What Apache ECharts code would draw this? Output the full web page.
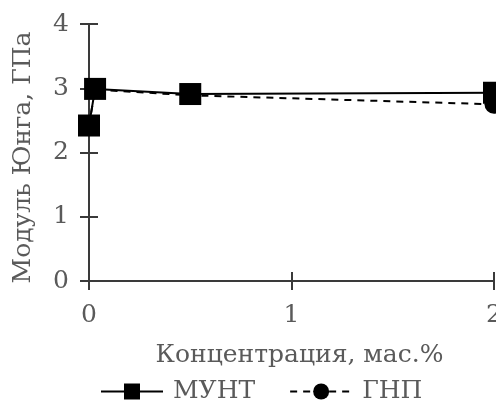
<!DOCTYPE html>
<html>
<head>
<meta charset="utf-8">
<script src="https://cdn.jsdelivr.net/npm/echarts@6/dist/echarts.min.js"></script>
<style>
  html, body { margin: 0; padding: 0; background: #fff; }
  #chart { width: 496px; height: 414px; }
</style>
</head>
<body>
<div id="chart"></div>
<script>
// Young's modulus vs filler concentration
const concMUNT = [0, 0.03, 0.5, 2];
const modulusMUNT = [2.42, 2.99, 2.91, 2.93];
const concGNP = [0, 0.03, 0.5, 2];
const modulusGNP = [2.42, 2.98, 2.89, 2.75];
const yTicks = [0, 1, 2, 3, 4];
const xTicks = [0, 1, 2];

const font = '"DejaVu Serif", "Liberation Serif", serif';
const axisColor = '#3a3a3a';
const labelColor = '#5a5a5a';

const pairs = (xs, ys) => xs.map((x, i) => [x, ys[i]]);

const chart = echarts.init(document.getElementById('chart'));

const baseX = {
  type: 'value', min: xTicks[0], max: xTicks[xTicks.length - 1], interval: 1,
  splitLine: { show: false },
  axisLine: { show: true, onZero: false, lineStyle: { color: axisColor, width: 2 } }
};
const baseY = {
  type: 'value', min: yTicks[0], max: yTicks[yTicks.length - 1], interval: 1,
  splitLine: { show: false },
  axisLine: { show: true, onZero: false, lineStyle: { color: axisColor, width: 2 } }
};

chart.setOption({
  animation: false,
  backgroundColor: '#fff',
  grid: { left: 89, right: 2, top: 24, bottom: 133, containLabel: false, outerBoundsMode: 'none' },
  legend: {
    bottom: 5,
    left: 95,
    itemWidth: 62,
    itemHeight: 20,
    itemGap: 34,
    textStyle: { fontFamily: font, fontSize: 25, color: labelColor, padding: [0, 0, 0, 5] },
    data: ['МУНТ', 'ГНП']
  },
  xAxis: [
    Object.assign({}, baseX, {
      name: 'Концентрация, мас.%',
      nameLocation: 'middle',
      nameGap: 62,
      nameTextStyle: { fontFamily: font, fontSize: 25, color: labelColor, padding: [0, 0, 0, 16] },
      axisTick: { show: true, inside: false, length: 9, lineStyle: { color: axisColor, width: 2 } },
      axisLabel: { fontFamily: font, fontSize: 25, color: labelColor, margin: 22 }
    }),
    Object.assign({}, baseX, {
      position: 'bottom',
      axisTick: { show: true, inside: true, length: 9, lineStyle: { color: axisColor, width: 2 } },
      axisLabel: { show: false }
    })
  ],
  yAxis: [
    Object.assign({}, baseY, {
      name: 'Модуль Юнга, ГПа',
      nameLocation: 'middle',
      nameGap: 53,
      nameRotate: 90,
      nameTextStyle: { fontFamily: font, fontSize: 25, color: labelColor, padding: [0, 10, 0, 0] },
      axisTick: { show: true, inside: false, length: 9, lineStyle: { color: axisColor, width: 2 } },
      axisLabel: { fontFamily: font, fontSize: 25, color: labelColor, margin: 20 }
    }),
    Object.assign({}, baseY, {
      position: 'left',
      axisTick: { show: true, inside: true, length: 9, lineStyle: { color: axisColor, width: 2 } },
      axisLabel: { show: false }
    })
  ],
  series: [
    {
      name: 'ГНП',
      type: 'line',
      clip: false,
      data: pairs(concGNP, modulusGNP),
      symbol: 'circle',
      symbolSize: 19,
      itemStyle: { color: '#000' },
      lineStyle: { color: '#000', width: 2, type: [7, 6] },
      z: 2
    },
    {
      name: 'МУНТ',
      type: 'line',
      clip: false,
      data: pairs(concMUNT, modulusMUNT),
      symbol: 'rect',
      symbolSize: 22,
      itemStyle: { color: '#000' },
      lineStyle: { color: '#000', width: 2 },
      z: 3
    }
  ]
});
</script>
</body>
</html>
